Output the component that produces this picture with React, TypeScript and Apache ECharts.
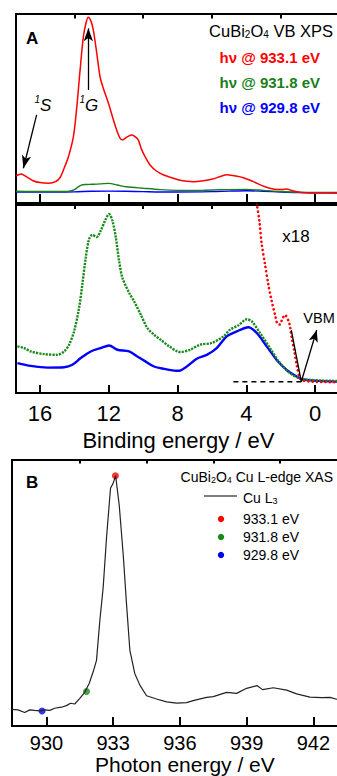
import React, { useEffect, useRef } from "react";
import * as echarts from "echarts";

const FONT = '"Liberation Sans", Arial, Helvetica, sans-serif';

// ---------- Panel A (upper): CuBi2O4 VB XPS, raw intensity (a.u.) vs binding energy (eV)
const redTopEnergy = [17.39, 17.1, 16.8, 16.4, 16.0, 15.5, 15.1, 14.83, 14.64, 14.35, 14.06, 13.86, 13.67, 13.48, 13.32, 13.2, 13.05, 12.9, 12.7, 12.51, 12.32, 12.02, 11.73, 11.5, 11.34, 11.2, 11.05, 10.85, 10.66, 10.45, 10.28, 10.1, 9.89, 9.6, 9.21, 8.8, 8.24, 7.85, 7.46, 7.08, 6.6, 6.01, 5.5, 5.14, 4.7, 4.17, 3.59, 2.91, 2.23, 1.9, 1.65, 1.35, 1.06, 0.48, 0, -1.5];
const redTopValue = [14.4, 15.3, 14.0, 11.8, 10.8, 10.5, 11.3, 13.5, 17.5, 24.5, 35.1, 51.0, 70.4, 88.0, 95.5, 98.3, 96.5, 91.5, 79.2, 66.8, 60.7, 52.8, 43.9, 37.5, 34.2, 33.4, 34.2, 35.4, 36.0, 35.0, 33.3, 28.5, 24.5, 20.1, 16.8, 14.8, 13.1, 12.0, 11.5, 11.3, 11.6, 12.6, 14.0, 15.0, 14.4, 13.4, 11.3, 8.6, 7.2, 7.2, 7.4, 6.6, 6.0, 5.4, 5.3, 5.3];

const greenTopEnergy = [17.4, 16.5, 15.5, 14.6, 14.3, 14.0, 13.8, 13.6, 13.3, 13.0, 12.5, 12.0, 11.5, 11.0, 10.5, 10.0, 9.0, 8.0, 7.0, 6.0, 5.0, 4.0, 3.0, 2.0, 1.0, 0.0, -1.5];
const greenTopValue = [6.2, 6.1, 6.1, 6.1, 6.3, 7.1, 8.4, 9.5, 9.8, 9.9, 10.1, 10.4, 9.5, 8.6, 8.2, 7.8, 7.1, 6.7, 6.6, 6.9, 7.1, 7.2, 6.7, 6.1, 5.7, 5.6, 5.6];

const blueTopEnergy = [17.4, 15, 14, 13, 12, 11, 10, 9, 8, 6, 5, 4, 3, 2, 1, 0, -1.5];
const blueTopValue = [5.8, 5.8, 5.9, 6.2, 6.3, 6.2, 6.0, 5.8, 5.8, 6.0, 6.3, 6.5, 6.2, 5.8, 5.5, 5.4, 5.3];

// ---------- Panel A (lower): x18 magnified spectra
const greenLowEnergy = [17.32, 16.93, 16.54, 15.76, 14.99, 14.6, 14.31, 14.02, 13.73, 13.54, 13.34, 13.15, 12.96, 12.7, 12.47, 12.18, 11.98, 11.79, 11.59, 11.4, 11.21, 10.82, 10.53, 10.14, 9.76, 9.37, 8.98, 8.49, 8.01, 7.85, 7.27, 6.69, 6.01, 5.33, 4.94, 4.46, 3.97, 3.68, 3.2, 2.62, 2.04, 1.45, 0.87, 0.68, 0.29, -0.48, -1.5];
const greenLowValue = [24.8, 23.9, 22.1, 20.7, 20.3, 22.1, 25.7, 32.8, 45.3, 57.8, 72.0, 81.8, 84.1, 83.0, 86.3, 92.5, 95.2, 91.6, 82.7, 70.2, 61.3, 53.3, 48.8, 41.7, 34.6, 31.0, 28.3, 24.8, 22.1, 21.8, 23.0, 25.7, 26.6, 30.1, 33.7, 36.0, 39.2, 38.1, 31.9, 23.9, 15.9, 10.5, 7.6, 7.3, 7.0, 6.6, 6.4];

const blueLowEnergy = [17.32, 16.54, 15.57, 14.6, 14.12, 13.63, 13.05, 12.47, 11.98, 11.5, 10.82, 10.34, 9.85, 9.37, 8.78, 8.2, 7.95, 7.46, 6.88, 6.3, 5.72, 5.14, 4.55, 3.88, 3.39, 2.81, 2.23, 1.65, 1.06, 0.77, 0.1, -1.5];
const blueLowValue = [15.9, 14.4, 13.5, 13.7, 15.0, 18.6, 22.1, 23.9, 25.3, 23.0, 22.1, 19.4, 16.7, 14.1, 12.8, 11.9, 11.8, 14.1, 18.2, 20.3, 23.9, 30.1, 32.8, 35.0, 31.9, 24.8, 17.6, 12.3, 8.7, 7.3, 6.6, 6.0];

const redLowEnergy = [3.55, 3.39, 3.24, 3.1, 2.91, 2.72, 2.52, 2.33, 2.2, 2.05, 1.94, 1.75, 1.55, 1.45, 1.36, 1.2, 1.06, 0.87, 0.68, 0.1, -1.5];
const redLowValue = [110, 100.5, 91.6, 79.1, 68.4, 57.8, 48.8, 41.7, 37.0, 36.4, 38.5, 41.5, 38.5, 35.0, 29.5, 22.1, 14.5, 7.9, 6.6, 6.0, 5.7];

// VBM construction (tangent + background level), in panel coordinates
const vbmTangentEnergy = [1.38, 0.8];
const vbmTangentValue = [33.5, 6.0];
const vbmBaseEnergy = [4.75, 0.8];
const vbmBaseValue = [6.0, 6.0];

const bindingMajorTicks = [16, 12, 8, 4, 0];
const bindingMinorTicks = [14, 10, 6, 2];

// ---------- Panel B: Cu L-edge XAS
const xasEnergy = [928.44, 928.72, 929.02, 929.25, 929.47, 929.7, 929.92, 930.15, 930.37, 930.67, 930.9, 931.08, 931.27, 931.5, 931.72, 931.92, 932.1, 932.25, 932.4, 932.55, 932.7, 932.88, 933.0, 933.11, 933.27, 933.45, 933.6, 933.75, 933.97, 934.2, 934.5, 934.95, 935.4, 935.85, 936.3, 936.6, 937.2, 937.5, 938.1, 938.55, 939.0, 939.48, 939.72, 940.2, 940.8, 941.25, 941.85, 942.38, 942.75, 943.05, 943.5];
const xasIntensity = [0.063, 0.061, 0.051, 0.061, 0.059, 0.057, 0.061, 0.059, 0.067, 0.071, 0.077, 0.086, 0.083, 0.104, 0.127, 0.16, 0.204, 0.247, 0.397, 0.521, 0.708, 0.894, 0.913, 0.941, 0.832, 0.646, 0.459, 0.285, 0.198, 0.154, 0.114, 0.102, 0.091, 0.086, 0.088, 0.096, 0.108, 0.111, 0.127, 0.123, 0.142, 0.152, 0.137, 0.144, 0.135, 0.121, 0.109, 0.107, 0.108, 0.101, 0.1];

const markerEnergies = [933.1, 931.8, 929.8];
const markerIntensities = [0.941, 0.13, 0.057];
const markerColors = ["#ff0000", "#1a8a1a", "#0000ff"];
const markerLabels = ["933.1 eV", "931.8 eV", "929.8 eV"];

const photonMajorTicks = [930, 933, 936, 939, 942];
const photonMinorTicks = [931.5, 934.5, 937.5, 940.5];

const excitationLabels = ["hν @ 933.1 eV", "hν @ 931.8 eV", "hν @ 929.8 eV"];
const excitationColors = ["#ff0000", "#1a7f1a", "#0000ff"];

const termLabels = ["S", "G"];

const zip = (xs: number[], ys: number[]) => xs.map((x, i) => [x, ys[i]]);

function axisPair(gridIndex: number, min: number, max: number, inverse: boolean, majorLen: number, minorLen: number, major: number[], minor: number[], label: any, name?: string, nameGap?: number, nameSize?: number) {
  const base = {
    type: "value",
    gridIndex,
    min,
    max,
    inverse,
    axisLine: { show: false },
    splitLine: { show: false },
  };
  return [
    {
      ...base,
      name: name || "",
      nameLocation: "middle",
      nameGap: nameGap || 0,
      nameTextStyle: { fontSize: nameSize || 20, color: "#000", fontFamily: FONT },
      axisTick: { show: true, inside: true, length: majorLen, lineStyle: { color: "#000", width: 2 }, customValues: major },
      axisLabel: label
        ? { show: true, customValues: major, color: "#000", fontFamily: FONT, ...label }
        : { show: false },
    },
    {
      ...base,
      axisTick: { show: true, inside: true, length: minorLen, lineStyle: { color: "#000", width: 2 }, customValues: minor },
      axisLabel: { show: false },
    },
  ];
}

export default function App() {
  const ref = useRef<HTMLDivElement>(null);
  useEffect(() => {
    if (!ref.current) return;
    const chart = echarts.init(ref.current, null, { renderer: "svg" });
    const arrowLine = { color: "#000", width: 1.3, type: "solid" };
    const option: any = {
      animation: false,
      backgroundColor: "#fff",
      grid: [
        { left: 16, top: 14, width: 324.8, height: 189, show: true, borderColor: "#000", borderWidth: 2 },
        { left: 16, top: 205, width: 324.8, height: 188, show: true, borderColor: "#000", borderWidth: 2 },
        { left: 12, top: 460, width: 345.8, height: 268, show: true, borderColor: "#000", borderWidth: 2 },
      ],
      xAxis: [
        ...axisPair(0, -1.5, 17.4, true, 9, 4.5, bindingMajorTicks, bindingMinorTicks, null),
        ...axisPair(1, -1.5, 17.4, true, 8, 4, bindingMajorTicks, bindingMinorTicks, { fontSize: 22, margin: 9 }, "Binding energy / eV", 36, 22),
        ...axisPair(2, 928.45, 944, false, 9, 3.5, photonMajorTicks, photonMinorTicks, { fontSize: 20, margin: 7 }, "Photon energy / eV", 27, 21),
      ],
      yAxis: [
        { type: "value", gridIndex: 0, min: 0, max: 100, show: false },
        { type: "value", gridIndex: 1, min: 0, max: 100, show: false },
        { type: "value", gridIndex: 2, min: 0, max: 1, show: false },
      ],
      series: [
        {
          type: "line", xAxisIndex: 0, yAxisIndex: 0, data: zip(blueTopEnergy, blueTopValue),
          showSymbol: false, smooth: 0.3, lineStyle: { color: "#0000ff", width: 1.4 },
          markLine: {
            silent: true, symbol: ["none", "arrow"], symbolSize: [7, 13], label: { show: false },
            lineStyle: arrowLine,
            data: [
              [{ coord: [16.2, 46.6] }, { coord: [16.97, 18.4] }],
              [{ coord: [13.19, 59.8] }, { coord: [13.19, 92.4] }],
            ],
          },
        },
        { type: "line", xAxisIndex: 0, yAxisIndex: 0, data: zip(greenTopEnergy, greenTopValue), showSymbol: false, smooth: 0.3, lineStyle: { color: "#1a7f1a", width: 1.4 } },
        { type: "line", xAxisIndex: 0, yAxisIndex: 0, data: zip(redTopEnergy, redTopValue), showSymbol: false, smooth: 0.3, lineStyle: { color: "#ff0000", width: 1.5 } },

        { type: "line", xAxisIndex: 2, yAxisIndex: 1, data: zip(vbmBaseEnergy, vbmBaseValue), showSymbol: false, lineStyle: { color: "#000", width: 1.4, type: [5, 4] } },
        { type: "line", xAxisIndex: 2, yAxisIndex: 1, data: zip(blueLowEnergy, blueLowValue), showSymbol: false, smooth: 0.3, lineStyle: { color: "#0000ff", width: 2.4 } },
        { type: "line", xAxisIndex: 2, yAxisIndex: 1, data: zip(greenLowEnergy, greenLowValue), showSymbol: false, smooth: 0.3, lineStyle: { color: "#1a8a1a", width: 2.4, type: [2.2, 1.1] } },
        { type: "line", xAxisIndex: 2, yAxisIndex: 1, data: zip(redLowEnergy, redLowValue), showSymbol: false, smooth: 0.3, lineStyle: { color: "#ff0000", width: 2.6, type: [0.1, 4.2], cap: "round" } },
        {
          type: "line", xAxisIndex: 2, yAxisIndex: 1, data: zip(vbmTangentEnergy, vbmTangentValue), showSymbol: false,
          lineStyle: { color: "#000", width: 1.3 },
          markLine: {
            silent: true, symbol: ["none", "arrow"], symbolSize: [7, 12], label: { show: false },
            lineStyle: arrowLine,
            data: [[{ coord: [0.8, 6.0] }, { coord: [-0.1, 33.5] }]],
          },
        },

        { type: "line", xAxisIndex: 4, yAxisIndex: 2, data: zip(xasEnergy, xasIntensity), showSymbol: false, lineStyle: { color: "#222", width: 1.2 } },
        {
          type: "scatter", xAxisIndex: 4, yAxisIndex: 2, symbolSize: 7,
          data: markerEnergies.map((e, i) => ({ value: [e, markerIntensities[i]], itemStyle: { color: markerColors[i] } })),
        },
      ],
      graphic: [
        { type: "text", x: 26, y: 38, style: { text: "A", font: `bold 17px ${FONT}`, fill: "#000", verticalAlign: "middle" } },
        {
          type: "text", x: 333, y: 29,
          style: {
            text: "{n|CuBi}{s|2}{n|O}{s|4}{n| VB XPS}", align: "right", verticalAlign: "middle", fill: "#000",
            rich: {
              n: { fontSize: 16.5, fontFamily: FONT, lineHeight: 20, verticalAlign: "bottom", fill: "#000" },
              s: { fontSize: 10, fontFamily: FONT, lineHeight: 7, verticalAlign: "bottom", fill: "#000" },
            },
          },
        },
        ...excitationLabels.map((t, i) => ({
          type: "text", x: 320, y: 57 + i * 25,
          style: { text: t, font: `bold 15px ${FONT}`, fill: excitationColors[i], align: "right", verticalAlign: "middle" },
        })),
        ...termLabels.map((l, i) => ({
          type: "group",
          children: [
            { type: "text", x: 34.5 + i * 45, y: 99.5, style: { text: "1", font: `italic 10px ${FONT}`, fill: "#000", verticalAlign: "middle" } },
            { type: "text", x: 40 + i * 45, y: 105, style: { text: l, font: `italic 17px ${FONT}`, fill: "#000", verticalAlign: "middle" } },
          ],
        })),
        { type: "text", x: 296, y: 236, style: { text: "x18", font: `17px ${FONT}`, fill: "#000", align: "center", verticalAlign: "middle" } },
        { type: "text", x: 319, y: 318, style: { text: "VBM", font: `14.5px ${FONT}`, fill: "#000", align: "center", verticalAlign: "middle" } },

        { type: "text", x: 26, y: 482, style: { text: "B", font: `bold 17px ${FONT}`, fill: "#000", verticalAlign: "middle" } },
        {
          type: "text", x: 333, y: 475,
          style: {
            text: "{n|CuBi}{s|2}{n|O}{s|4}{n| Cu L-edge XAS}", align: "right", verticalAlign: "middle",
            rich: {
              n: { fontSize: 14, fontFamily: FONT, lineHeight: 18, verticalAlign: "bottom", fill: "#000" },
              s: { fontSize: 9, fontFamily: FONT, lineHeight: 6, verticalAlign: "bottom", fill: "#000" },
            },
          },
        },
        { type: "line", shape: { x1: 204, y1: 496, x2: 237, y2: 496 }, style: { stroke: "#000", lineWidth: 1.2 } },
        {
          type: "text", x: 243, y: 496,
          style: {
            text: "{n|Cu L}{s|3}", verticalAlign: "middle",
            rich: {
              n: { fontSize: 14, fontFamily: FONT, lineHeight: 18, verticalAlign: "bottom", fill: "#000" },
              s: { fontSize: 9, fontFamily: FONT, lineHeight: 6, verticalAlign: "bottom", fill: "#000" },
            },
          },
        },
        ...markerLabels.map((t, i) => ({
          type: "group",
          children: [
            { type: "circle", shape: { cx: 221, cy: 519 + i * 18, r: 3.2 }, style: { fill: markerColors[i] } },
            { type: "text", x: 243, y: 519 + i * 18, style: { text: t, font: `14px ${FONT}`, fill: "#000", verticalAlign: "middle" } },
          ],
        })),
      ],
    };
    chart.setOption(option);
    return () => chart.dispose();
  }, []);
  return (
    <div style={{ position: "absolute", left: 0, top: 0, width: 337, height: 776, overflow: "hidden", background: "#fff" }}>
      <div ref={ref} style={{ width: 370, height: 776 }} />
    </div>
  );
}
